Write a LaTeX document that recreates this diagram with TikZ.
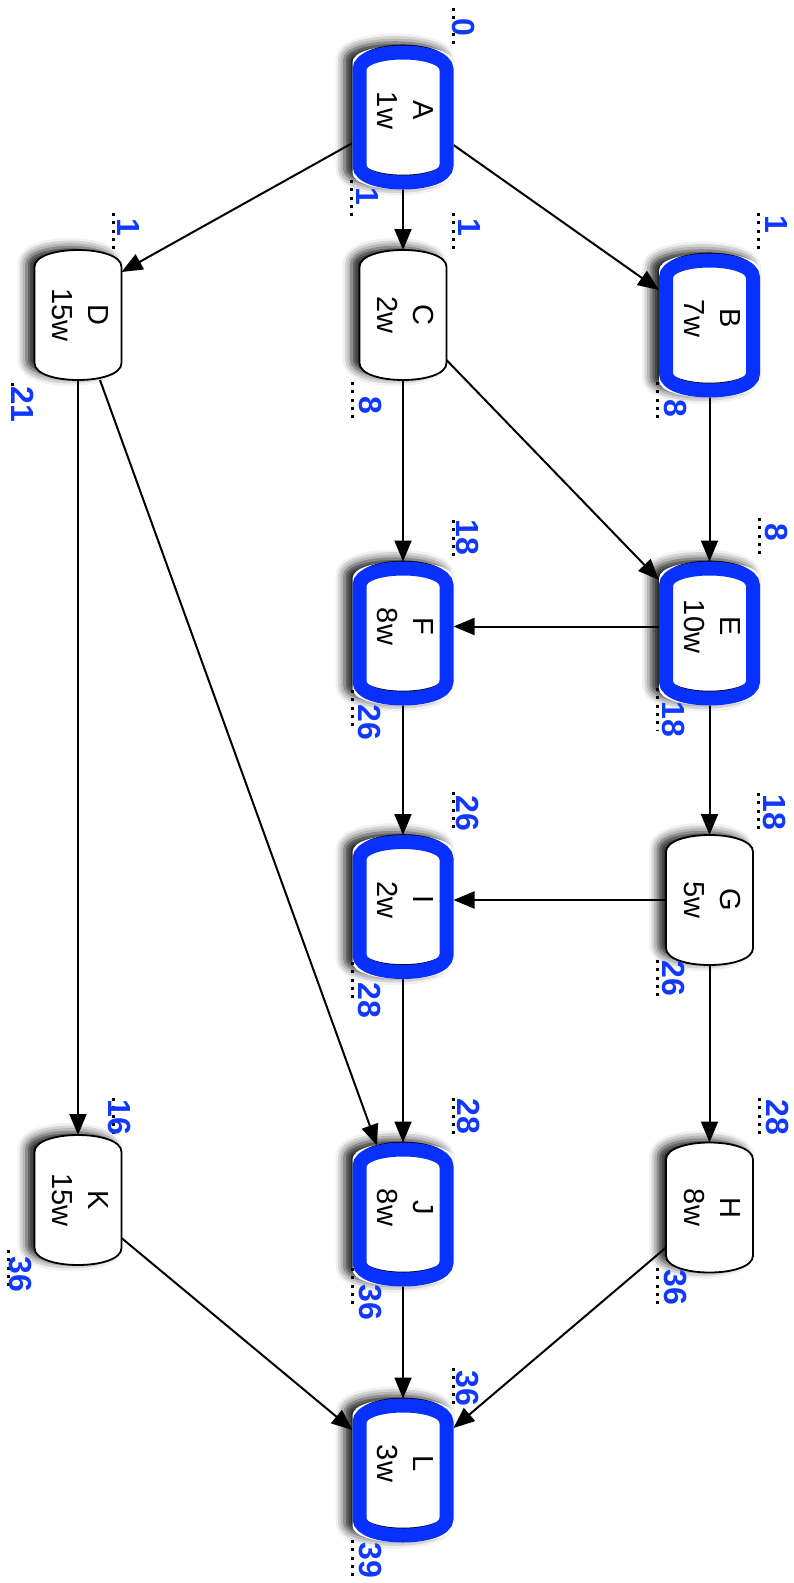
\documentclass[tikz,border=0pt]{standalone}
\usepackage{fontspec}
\setmainfont{Liberation Sans}
\usetikzlibrary{arrows.meta,shadows.blur}
\pgfdeclarelayer{edgelayer}
\pgfdeclarelayer{shapelayer}
\pgfsetlayers{edgelayer,shapelayer,main}
\definecolor{crit}{RGB}{8,48,255}
\definecolor{lbl}{RGB}{16,56,255}
% #1 node, #2 dx, #3 dy, #4 half width, #5 half height, #6 options
\newcommand\tshape[6]{%
  \path[#6] ([shift={(#2-#4,#3-#5+17)}]#1.center)
    .. controls ([shift={(#2-#4,#3-#5-5.667)}]#1.center) and ([shift={(#2+#4,#3-#5-5.667)}]#1.center)
    .. ([shift={(#2+#4,#3-#5+17)}]#1.center)
    -- ([shift={(#2+#4,#3+#5-17)}]#1.center)
    .. controls ([shift={(#2+#4,#3+#5+5.667)}]#1.center) and ([shift={(#2-#4,#3+#5+5.667)}]#1.center)
    .. ([shift={(#2-#4,#3+#5-17)}]#1.center) -- cycle;}
\tikzset{tshadow/.style={blur shadow={shadow xshift=-8pt,shadow yshift=3pt,shadow blur radius=9pt,shadow opacity=90}}}
\newcommand\normshape[1]{%
  \tshape{#1}{0}{0}{43.5}{65}{fill=white,draw=black,line width=1.8pt,tshadow}}
\newcommand\critshape[1]{%
  \tshape{#1}{0}{7}{50.5}{72}{fill=white,tshadow}%
  \tshape{#1}{0}{0}{43.5}{65}{fill=white,draw=black,line width=1.6pt}%
  \tshape{#1}{0}{7}{43.5}{65}{draw=crit,line width=14pt}}
\newcommand\tx[2]{\rotatebox{-90}{\begin{tabular}{@{}c@{}}#1\\#2\end{tabular}}}
\begin{document}
\begin{tikzpicture}[x=1pt,y=-1pt,
  task/.style={draw=none,minimum width=87pt,minimum height=130pt,inner sep=0pt,outer sep=0pt,
    font=\fontsize{29}{36}\selectfont},
  crittask/.style={task,outer xsep=7pt},
  conn/.style={draw=black,line width=2pt,-{Triangle[length=21pt,width=17pt,fill=black]}},
  lab/.style={text=lbl,font=\fontsize{32}{32}\selectfont\bfseries,rotate=-90,inner sep=0pt},
  dotl/.style={line width=3pt,dash pattern=on 3pt off 5.3pt}]
\useasboundingbox (0,0) rectangle (794,1583);
% task nodes
\node[crittask] (A) at (403,110.5) {\tx{A}{1w}};
\node[crittask] (B) at (709.5,318.5) {\tx{B}{7w}};
\node[task] (C) at (403,315) {\tx{C}{2w}};
\node[task] (D) at (78,315) {\tx{D}{15w}};
\node[crittask] (E) at (709.5,626.5) {\tx{E}{10w}};
\node[crittask] (F) at (403,626.5) {\tx{F}{8w}};
\node[task] (G) at (709.5,900) {\tx{G}{5w}};
\node[crittask] (I) at (403,900) {\tx{I}{2w}};
\node[task] (H) at (709.5,1207.5) {\tx{H}{8w}};
\node[crittask] (J) at (403,1207.5) {\tx{J}{8w}};
\node[task] (K) at (78,1200) {\tx{K}{15w}};
\node[crittask] (L) at (403,1463.5) {\tx{L}{3w}};
% shapes
\begin{pgfonlayer}{shapelayer}
\critshape{A}\critshape{B}\normshape{C}\normshape{D}
\critshape{E}\critshape{F}\normshape{G}\critshape{I}
\normshape{H}\critshape{J}\normshape{K}\critshape{L}
\end{pgfonlayer}
% connectors
\begin{pgfonlayer}{edgelayer}
\draw[conn] ([yshift=-34.5pt]A.east) -- ([yshift=28.5pt]B.west);
\draw[conn] (A) -- (C);
\draw[conn] ([yshift=-32.5pt]A.west) -- ([yshift=43pt]D.east);
\draw[conn] (B) -- (E);
\draw[conn] ([yshift=-45pt]C.east) -- ([yshift=46.5pt]E.west);
\draw[conn] (C) -- (F);
\draw[conn] ([xshift=22pt]D.south) -- ([xshift=-26pt,yshift=-3pt]J.north);
\draw[conn] (D) -- (K);
\draw[conn] (E) -- (F);
\draw[conn] (E) -- (G);
\draw[conn] (F) -- (I);
\draw[conn] (G) -- (I);
\draw[conn] (G) -- (H);
\draw[conn] (I) -- (J);
\draw[conn] (J) -- (L);
\draw[conn] ([yshift=-40pt]H.west) -- ([yshift=35.5pt]L.east);
\draw[conn] ([yshift=-38pt]K.east) -- ([yshift=33.5pt]L.west);
\end{pgfonlayer}
% time labels with dotted underlines
\draw[dotl] (453,8) -- (453,47);       \node[lab] (ta) at (464,27) {0};
\draw[dotl] (351,180) -- (351,217);    \node[lab] (ba) at (368,196) {1};
\draw[dotl] (758,213) -- (758,250);    \node[lab] (tb) at (776,224) {1};
\draw[dotl] (657,382) -- (657,422);    \node[lab] (bb) at (676,408) {8};
\draw[dotl] (453,213) -- (453,252);    \node[lab] (tc) at (470,227) {1};
\draw[dotl] (352,382) -- (352,420);    \node[lab] (bc) at (371,405) {8};
\draw[dotl] (113,213) -- (113,252);    \node[lab] (td) at (129,227) {1};
\draw[dotl] (12,383) -- (12,420);      \node[lab] (bd) at (23,404) {21};
\draw[dotl] (759,518) -- (759,558);    \node[lab] (te) at (777,532) {8};
\draw[dotl] (657,688) -- (657,730);    \node[lab] (be) at (674,719) {18};
\draw[dotl] (453,520) -- (453,558);    \node[lab] (tf) at (468,537) {18};
\draw[dotl] (352,690) -- (352,730);    \node[lab] (bf) at (370,722) {26};
\draw[dotl] (758,793) -- (758,832);    \node[lab] (tg) at (775,812) {18};
\draw[dotl] (657,960) -- (657,1000);   \node[lab] (bg) at (674,978) {26};
\draw[dotl] (759,1098) -- (759,1137);  \node[lab] (th) at (778,1117) {28};
\draw[dotl] (657,1268) -- (657,1307);  \node[lab] (bh) at (675,1287) {36};
\draw[dotl] (453,792) -- (453,830);    \node[lab] (ti) at (468,813) {26};
\draw[dotl] (352,962) -- (352,1000);   \node[lab] (bi) at (370,1000) {28};
\draw[dotl] (453,1098) -- (453,1137);  \node[lab] (tj) at (469,1116) {28};
\draw[dotl] (352,1268) -- (352,1307);  \node[lab] (bj) at (370,1302) {36};
\draw[dotl] (113,1098) -- (113,1137);  \node[lab] (tk) at (120,1117) {16};
\draw[dotl] (8,1250) -- (8,1290);      \node[lab] (bk) at (20,1274) {36};
\draw[dotl] (453,1368) -- (453,1408);  \node[lab] (tl) at (467,1388) {36};
\draw[dotl] (352,1540) -- (352,1580);  \node[lab] (bl) at (370,1560) {39};
\end{tikzpicture}
\end{document}
